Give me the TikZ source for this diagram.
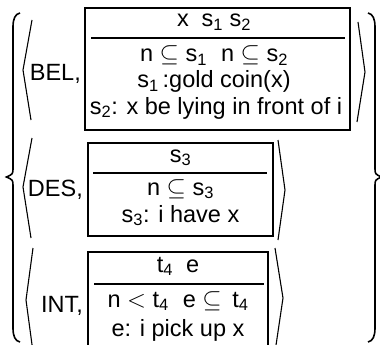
\documentclass[tikz,border=0pt]{standalone}
\usepackage{fontspec}
\setmainfont{Liberation Sans}
\begin{document}
\begin{tikzpicture}[x=1pt,y=-1pt,
  txt/.style={anchor=base,inner sep=0pt,font=\fontsize{23.5}{28}\selectfont},
  lbl/.style={anchor=base east,inner sep=0pt,font=\fontsize{23.5}{28}\selectfont},
  boxline/.style={line width=2pt},
  divline/.style={line width=1.8pt},
  angle/.style={line width=1.1pt,line join=miter},
  brace/.style={line width=1.6pt}]
\useasboundingbox (0,0) rectangle (380,345);
% left brace
\draw[brace] (20,13) .. controls (15,14) and (13,19) .. (13,27) -- (13,168)
  .. controls (13,174) .. (6.5,177) .. controls (13,180) .. (13,186) -- (13,328)
  .. controls (13,336) and (15,341) .. (20,342);
% right brace
\draw[brace] (368,13) .. controls (373,14) and (375,19) .. (375,27) -- (375,168)
  .. controls (375,174) .. (381.5,177) .. controls (375,180) .. (375,186) -- (375,328)
  .. controls (375,336) and (373,341) .. (368,342);
% angle brackets
\draw[angle] (32,20) -- (23,70) -- (31,120);
\draw[angle] (32,138) -- (23,187) -- (31,238);
\draw[angle] (33,248) -- (26,300) -- (33,352);
\draw[angle] (358,22) -- (365,72) -- (357,122);
\draw[angle] (278,140) -- (285,190) -- (278,240);
\draw[angle] (275,248) -- (283,298) -- (275,352);
% labels
\node[lbl] (bel) at (81,81) {BEL,};
\node[lbl] (des) at (83,196) {DES,};
\node[lbl] (int) at (83,312) {INT,};
% box 1
\draw[boxline] (85,8) rectangle (350,130);
\draw[divline] (91,38) -- (345,38);
\node[txt] (b1h) at (214,27) {x\hspace{0.55em}s\textsubscript{1} s\textsubscript{2}};
\node[txt] (b1a) at (214,62) {n $\subseteq$ s\textsubscript{1}\hspace{0.6em}n $\subseteq$ s\textsubscript{2}};
\node[txt] (b1b) at (214,88) {s\textsubscript{1}\,:gold coin(x)};
\node[txt] (b1c) at (216,114) {s\textsubscript{2}: x be lying in front of i};
% box 2
\draw[boxline] (88,143) rectangle (273,236);
\draw[divline] (93,173) -- (267,173);
\node[txt] (b2h) at (180.5,162) {s\textsubscript{3}};
\node[txt] (b2a) at (180.5,195) {n $\subseteq$ s\textsubscript{3}};
\node[txt] (b2b) at (180.5,222) {s\textsubscript{3}: i have x};
% box 3
\draw[boxline] (88,252) rectangle (268,352);
\draw[divline] (94,284) -- (264,284);
\node[txt] (b3h) at (178,272) {t\textsubscript{4}\hspace{0.55em}e};
\node[txt] (b3a) at (178,307) {n $<$ t\textsubscript{4}\hspace{0.6em}e $\subseteq$\, t\textsubscript{4}};
\node[txt] (b3b) at (178,336) {e: i pick up x};
\end{tikzpicture}
\end{document}
